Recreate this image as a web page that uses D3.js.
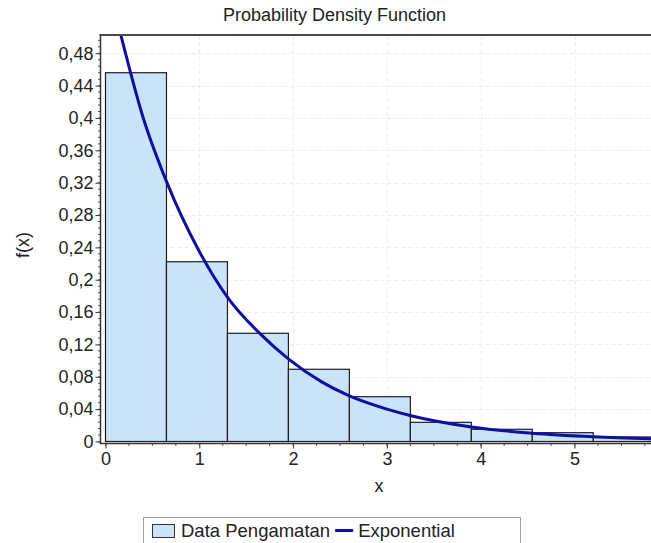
<!DOCTYPE html>
<html>
<head>
<meta charset="utf-8">
<script src="https://cdn.jsdelivr.net/npm/d3@7"></script>
<style>
  html, body { margin: 0; padding: 0; background: #fff; }
  svg { display: block; font-family: "Liberation Sans", Arial, sans-serif; }
</style>
</head>
<body>
<svg id="chart" width="651" height="543"></svg>
<script>
// ---- data ----
const binStart = [0, 0.65, 1.30, 1.95, 2.60, 3.25, 3.90, 4.55, 5.20];
const binEnd   = [0.65, 1.30, 1.95, 2.60, 3.25, 3.90, 4.55, 5.20, 5.85];
const density  = [0.456, 0.2223, 0.1338, 0.0893, 0.0554, 0.0237, 0.0151, 0.0109, 0.0056];

const curveX = [0.165, 0.40, 0.652, 1.00, 1.309, 1.65, 1.956, 2.30, 2.60, 3.00, 3.257, 3.90, 4.55, 5.20, 5.90];
const curveY = [0.502, 0.401, 0.321, 0.235, 0.177, 0.133, 0.1016, 0.074, 0.0563, 0.040, 0.0319, 0.018, 0.0102, 0.0058, 0.0030];

const yTicks = [0, 0.04, 0.08, 0.12, 0.16, 0.2, 0.24, 0.28, 0.32, 0.36, 0.4, 0.44, 0.48];
const yTickLabels = ["0", "0,04", "0,08", "0,12", "0,16", "0,2", "0,24", "0,28", "0,32", "0,36", "0,4", "0,44", "0,48"];
const xTicks = [0, 1, 2, 3, 4, 5];
const xTickLabels = ["0", "1", "2", "3", "4", "5"];

const titleText = "Probability Density Function";
const xLabel = "x";
const yLabel = "f(x)";
const legendLabels = ["Data Pengamatan", "Exponential"];

// ---- styles ----
const barFill = "#cbe3f8";
const barStroke = "#1e1e1e";
const lineColor = "#10109e";
const fontSize = 18;

const svg = d3.select("#chart");
const W = 651, H = 543;

const x = d3.scaleLinear().domain([0, 6]).range([105.5, 105.5 + 6 * 93.8]);
const y = d3.scaleLinear().domain([0, 0.502]).range([441.5, 35.5]);

const plotLeft = 100.5, plotTop = 35.5, plotBottom = 443.5, plotRight = W;

svg.append("defs").append("clipPath").attr("id", "clip")
  .append("rect").attr("x", plotLeft).attr("y", plotTop)
  .attr("width", plotRight - plotLeft).attr("height", plotBottom - plotTop);

// grid
const grid = svg.append("g").attr("clip-path", "url(#clip)");
grid.selectAll("line.hg").data(yTicks.filter(d => d > 0)).join("line")
  .attr("x1", plotLeft).attr("x2", plotRight)
  .attr("y1", d => Math.round(y(d)) + 0.5).attr("y2", d => Math.round(y(d)) + 0.5)
  .attr("stroke", "#ececec").attr("stroke-width", 1).attr("stroke-dasharray", "4,3");
grid.selectAll("line.vg").data(xTicks.filter(d => d > 0)).join("line")
  .attr("y1", plotTop).attr("y2", plotBottom)
  .attr("x1", d => Math.round(x(d)) + 0.5).attr("x2", d => Math.round(x(d)) + 0.5)
  .attr("stroke", "#ececec").attr("stroke-width", 1).attr("stroke-dasharray", "4,3");

// bars
const bars = svg.append("g").attr("clip-path", "url(#clip)");
bars.selectAll("rect").data(density).join("rect")
  .attr("x", (d, i) => x(binStart[i]))
  .attr("width", (d, i) => x(binEnd[i]) - x(binStart[i]))
  .attr("y", d => y(d))
  .attr("height", d => y(0) - y(d))
  .attr("fill", barFill)
  .attr("stroke", barStroke)
  .attr("stroke-width", 1.2);

// curve
const pts = curveX.map((v, i) => [v, curveY[i]]);
svg.append("g").attr("clip-path", "url(#clip)")
  .append("path")
  .datum(pts)
  .attr("d", d3.line().x(d => x(d[0])).y(d => y(d[1])).curve(d3.curveMonotoneX))
  .attr("fill", "none")
  .attr("stroke", lineColor)
  .attr("stroke-width", 3);

// top border
svg.append("line").attr("x1", plotLeft - 1).attr("x2", W).attr("y1", 35).attr("y2", 35)
  .attr("stroke", "#4a4a4a").attr("stroke-width", 2);

// y axis
const yMinor = d3.range(0, 0.5, 0.008);
const yAxis = d3.axisLeft(y).tickValues(yTicks)
  .tickFormat((d, i) => yTickLabels[i]).tickSize(5).tickPadding(2);
const gy = svg.append("g").attr("transform", `translate(${plotLeft},0)`).call(yAxis);
gy.select(".domain").remove();
gy.selectAll("text").attr("font-size", fontSize).attr("fill", "#222")
  .attr("font-family", "Liberation Sans, Arial, sans-serif");
gy.selectAll(".tick line").attr("stroke", "#333");
svg.append("g").selectAll("line").data(yMinor).join("line")
  .attr("x1", plotLeft - 2.5).attr("x2", plotLeft)
  .attr("y1", d => y(d)).attr("y2", d => y(d))
  .attr("stroke", "#555").attr("stroke-width", 1);
svg.append("line").attr("x1", plotLeft).attr("x2", plotLeft).attr("y1", 34).attr("y2", plotBottom)
  .attr("stroke", "#333").attr("stroke-width", 1.5);

// x axis
const xMinor = d3.range(0, 6.01, 0.25);
const xAxis = d3.axisBottom(x).tickValues(xTicks)
  .tickFormat((d, i) => xTickLabels[i]).tickSize(5).tickPadding(4);
const gx = svg.append("g").attr("transform", `translate(0,${plotBottom})`).call(xAxis);
gx.select(".domain").remove();
gx.selectAll("text").attr("font-size", fontSize).attr("fill", "#222")
  .attr("font-family", "Liberation Sans, Arial, sans-serif");
gx.selectAll(".tick line").attr("stroke", "#333");
svg.append("g").selectAll("line").data(xMinor).join("line")
  .attr("x1", d => x(d)).attr("x2", d => x(d))
  .attr("y1", plotBottom).attr("y2", plotBottom + 2.5)
  .attr("stroke", "#555").attr("stroke-width", 1);
svg.append("line").attr("x1", plotLeft - 0.75).attr("x2", W).attr("y1", plotBottom).attr("y2", plotBottom)
  .attr("stroke", "#333").attr("stroke-width", 1.5);

// title and axis labels
svg.append("text").attr("x", 334.5).attr("y", 21).attr("text-anchor", "middle")
  .attr("font-size", fontSize).attr("fill", "#222").text(titleText);
svg.append("text").attr("x", 379).attr("y", 492).attr("text-anchor", "middle")
  .attr("font-size", fontSize).attr("fill", "#222").text(xLabel);
svg.append("text").attr("transform", "translate(29,245) rotate(-90)").attr("text-anchor", "middle")
  .attr("font-size", fontSize).attr("fill", "#222").text(yLabel);

// legend
const lg = svg.append("g");
lg.append("rect").attr("x", 143.5).attr("y", 517.5).attr("width", 377).attr("height", 32)
  .attr("fill", "#fff").attr("stroke", "#a0a0a0").attr("stroke-width", 1);
lg.append("rect").attr("x", 152.5).attr("y", 524.5).attr("width", 22).attr("height", 13)
  .attr("fill", barFill).attr("stroke", "#333").attr("stroke-width", 1);
const t1 = lg.append("text").attr("x", 181).attr("y", 537).attr("font-size", 18.5)
  .attr("fill", "#222").text(legendLabels[0]);
const w1 = t1.node().getComputedTextLength();
const lx = 181 + w1 + 5;
lg.append("line").attr("x1", lx).attr("x2", lx + 18).attr("y1", 530.5).attr("y2", 530.5)
  .attr("stroke", lineColor).attr("stroke-width", 3);
lg.append("text").attr("x", lx + 23).attr("y", 537).attr("font-size", 18.5)
  .attr("fill", "#222").text(legendLabels[1]);
</script>
</body>
</html>
